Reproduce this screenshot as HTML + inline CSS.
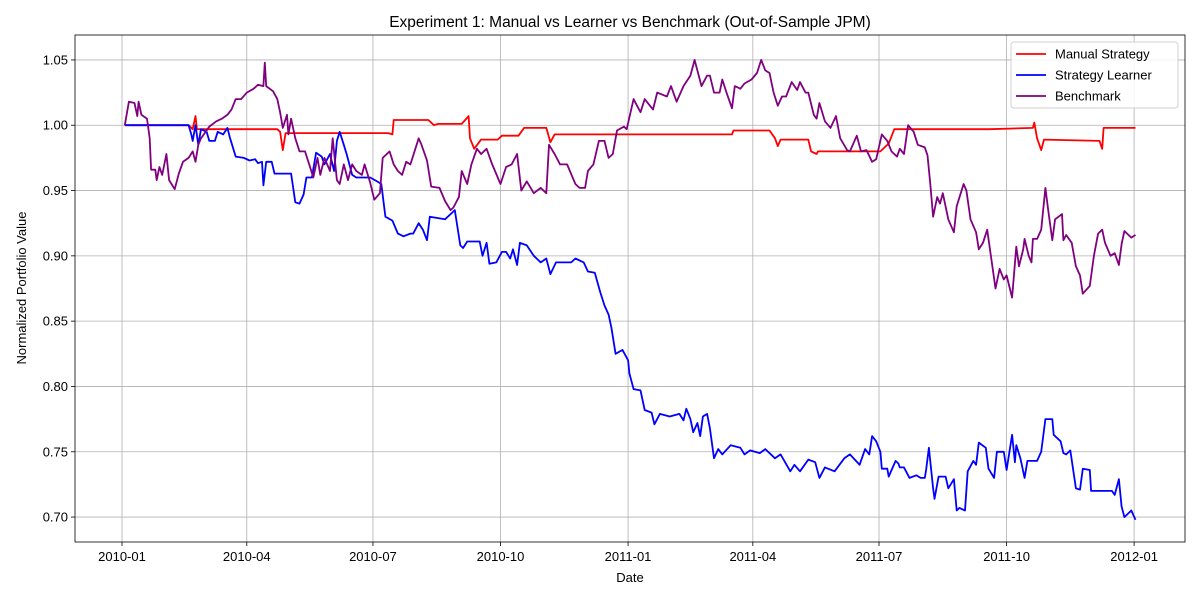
<!DOCTYPE html>
<html><head><meta charset="utf-8"><style>
body{margin:0;background:#fff;}
svg{display:block;font-family:"Liberation Sans","DejaVu Sans",sans-serif;}
</style></head><body>
<svg id="chart" width="1200" height="600"></svg>
<script>
const xTickLabels = ["2010-01","2010-04","2010-07","2010-10","2011-01","2011-04","2011-07","2011-10","2012-01"];
const xTickDays = [0,90,181,273,365,455,546,638,730];
const yTicks = [0.70,0.75,0.80,0.85,0.90,0.95,1.00,1.05];
const manualDays = [2,48,51,53,54,112,114,116,118,192,195,196,208,221,225,228,245,250,251,254,259,271,274,286,290,306,309,312,417,440,441,467,471,473,475,495,497,501,502,547,553,557,626,657,658,660,663,665,705,707,708,731];
const manualVals = [1.0,1.0,0.997,1.007,0.997,0.997,0.995,0.981,0.994,0.994,0.993,1.004,1.004,1.004,1.0,1.001,1.001,1.007,0.99,0.982,0.989,0.989,0.992,0.992,0.998,0.998,0.987,0.993,0.993,0.993,0.996,0.996,0.99,0.984,0.989,0.989,0.98,0.978,0.98,0.98,0.986,0.997,0.997,0.998,1.002,0.99,0.981,0.989,0.988,0.982,0.998,0.998];
const learnerDays = [2,48,50,51,53,55,57,61,63,67,69,73,76,78,82,88,92,96,98,101,102,104,108,110,122,125,128,131,133,137,140,144,146,150,153,155,157,160,162,166,169,174,179,184,187,190,195,199,203,208,210,214,217,220,222,233,237,240,244,246,249,258,260,263,265,270,274,277,280,282,285,287,292,297,302,306,309,313,324,327,333,336,341,345,348,351,353,356,361,365,366,369,374,377,382,384,388,395,402,405,407,410,412,415,417,419,422,424,427,430,433,439,446,449,453,460,464,471,475,482,485,489,495,500,503,507,514,521,525,532,536,539,541,544,547,548,552,553,558,560,561,564,568,573,576,579,580,582,585,586,589,594,596,600,602,604,608,610,614,616,618,623,625,629,631,636,638,642,644,645,648,651,653,660,663,666,671,672,677,679,681,684,688,691,693,698,699,714,716,719,721,723,728,731];
const learnerVals = [1.0,1.0,0.993,0.988,1.0,0.985,0.997,0.995,0.988,0.988,0.995,0.993,0.998,0.99,0.976,0.975,0.973,0.974,0.971,0.972,0.954,0.972,0.972,0.963,0.963,0.941,0.94,0.947,0.96,0.96,0.979,0.976,0.97,0.978,0.965,0.988,0.995,0.985,0.978,0.962,0.96,0.96,0.96,0.957,0.955,0.93,0.927,0.917,0.915,0.917,0.917,0.925,0.92,0.912,0.93,0.928,0.932,0.935,0.908,0.906,0.911,0.911,0.9,0.91,0.894,0.895,0.903,0.903,0.898,0.905,0.893,0.91,0.908,0.9,0.895,0.898,0.886,0.895,0.895,0.898,0.895,0.888,0.887,0.872,0.862,0.855,0.845,0.825,0.828,0.82,0.81,0.798,0.797,0.782,0.78,0.771,0.779,0.777,0.779,0.774,0.783,0.775,0.765,0.772,0.762,0.777,0.779,0.768,0.745,0.752,0.748,0.755,0.753,0.748,0.751,0.749,0.752,0.745,0.748,0.735,0.74,0.735,0.744,0.742,0.73,0.738,0.735,0.745,0.748,0.74,0.752,0.748,0.762,0.758,0.75,0.737,0.737,0.731,0.743,0.741,0.738,0.738,0.73,0.732,0.73,0.73,0.736,0.753,0.722,0.714,0.731,0.731,0.722,0.729,0.705,0.707,0.705,0.735,0.743,0.74,0.757,0.753,0.737,0.73,0.75,0.75,0.736,0.763,0.742,0.755,0.745,0.73,0.743,0.743,0.75,0.775,0.775,0.763,0.758,0.749,0.748,0.751,0.722,0.721,0.737,0.736,0.72,0.72,0.717,0.729,0.708,0.7,0.705,0.698];
const benchDays = [2,5,9,11,12,14,18,20,21,24,25,27,29,32,34,38,41,44,48,51,53,55,57,61,63,68,72,76,79,82,86,90,95,98,102,103,104,109,112,114,116,119,120,122,125,128,132,135,138,141,143,146,150,152,155,157,160,163,166,169,173,175,179,182,186,188,193,196,199,202,205,208,214,216,220,223,229,233,237,239,243,245,249,252,256,259,263,267,273,277,281,285,288,292,297,302,306,308,312,316,321,327,330,334,336,340,344,348,351,354,357,362,364,369,374,377,383,386,393,396,400,405,410,413,418,422,424,427,431,433,436,440,442,446,449,454,458,461,464,467,470,473,476,479,483,487,489,493,495,499,501,503,507,511,515,518,523,525,530,533,537,541,544,548,552,555,559,561,564,567,571,574,579,581,583,585,588,590,592,596,600,602,607,609,612,616,618,621,624,630,633,636,638,642,645,647,650,651,654,656,657,660,663,666,668,671,673,678,679,681,685,688,691,693,698,701,704,707,709,713,716,719,721,723,728,731];
const benchVals = [1.0,1.018,1.017,1.007,1.018,1.008,1.005,0.99,0.966,0.966,0.958,0.968,0.962,0.978,0.958,0.951,0.963,0.972,0.975,0.98,0.972,0.985,0.99,0.996,0.999,1.003,1.005,1.008,1.012,1.02,1.02,1.025,1.028,1.031,1.03,1.048,1.03,1.026,1.02,1.01,0.998,1.008,0.993,1.005,0.99,0.98,0.98,0.97,0.96,0.975,0.962,0.975,0.965,0.99,0.958,0.955,0.97,0.958,0.97,0.965,0.962,0.97,0.956,0.943,0.948,0.975,0.98,0.97,0.965,0.962,0.972,0.97,0.99,0.985,0.973,0.953,0.952,0.942,0.935,0.937,0.945,0.965,0.955,0.97,0.982,0.978,0.982,0.97,0.955,0.968,0.97,0.978,0.95,0.957,0.948,0.952,0.948,0.985,0.978,0.97,0.97,0.955,0.952,0.952,0.965,0.97,0.988,0.988,0.975,0.978,0.996,0.999,0.997,1.02,1.01,1.02,1.012,1.025,1.022,1.03,1.018,1.03,1.038,1.05,1.03,1.038,1.038,1.025,1.025,1.035,1.025,1.013,1.03,1.028,1.032,1.035,1.04,1.05,1.042,1.04,1.025,1.015,1.022,1.022,1.033,1.027,1.033,1.025,1.025,1.008,1.005,1.017,1.003,0.998,1.007,0.99,0.981,0.98,0.992,0.98,0.981,0.972,0.974,0.993,0.988,0.98,0.976,0.982,0.978,1.0,0.995,0.985,0.983,0.977,0.955,0.93,0.945,0.94,0.948,0.928,0.918,0.938,0.955,0.95,0.928,0.918,0.905,0.91,0.92,0.875,0.89,0.882,0.885,0.868,0.907,0.892,0.905,0.913,0.9,0.895,0.913,0.913,0.92,0.952,0.935,0.912,0.928,0.932,0.912,0.916,0.91,0.892,0.885,0.871,0.877,0.9,0.917,0.92,0.91,0.9,0.902,0.893,0.909,0.919,0.914,0.916];

const NS="http://www.w3.org/2000/svg";
const svg=document.getElementById('chart');
const L=75,R=1185,T=35,B=542;
const d0=-33.9,d1=766.7,v0=0.6809,v1=1.0691;
const xs=d=>L+(d-d0)/(d1-d0)*(R-L);
const ys=v=>B-(v-v0)/(v1-v0)*(B-T);
function mk(tag,attrs,parent){const e=document.createElementNS(NS,tag);for(const k in attrs)e.setAttribute(k,attrs[k]);(parent||svg).appendChild(e);return e;}

const grid=mk('g',{});


xTickDays.forEach((d,i)=>{
  const x=xs(d);
  mk('line',{x1:x,x2:x,y1:T,y2:B,stroke:'#b0b0b0','stroke-width':0.8},grid);
  mk('line',{x1:x,x2:x,y1:B,y2:B+4,stroke:'#000','stroke-width':0.8},grid);
  const t=mk('text',{x:x,y:B+19,'text-anchor':'middle','font-size':13,fill:'#000'});
  t.textContent=xTickLabels[i];
  
  
});
yTicks.forEach(v=>{
  const y=ys(v);
  mk('line',{x1:L,x2:R,y1:y,y2:y,stroke:'#b0b0b0','stroke-width':0.8},grid);
  mk('line',{x1:L-4,x2:L,y1:y,y2:y,stroke:'#000','stroke-width':0.8},grid);
  const t=mk('text',{x:L-7,y:y+4.5,'text-anchor':'end','font-size':13,fill:'#000'});
  t.textContent=v.toFixed(2);
  
  
});

function series(days,vals,color,name){
  const p=days.map((d,i)=>(i?'L':'M')+xs(d).toFixed(1)+','+ys(vals[i]).toFixed(1)).join('');
  const e=mk('path',{d:p,fill:'none',stroke:color,'stroke-width':1.8,'stroke-linejoin':'round'});
  
  
}
series(manualDays,manualVals,'#ff0000','manual-strategy-line');
series(learnerDays,learnerVals,'#0000ff','strategy-learner-line');
series(benchDays,benchVals,'#800080','benchmark-line');

const frame=mk('rect',{x:L,y:T,width:R-L,height:B-T,fill:'none',stroke:'#000','stroke-width':0.8});



const title=mk('text',{x:630,y:27,'text-anchor':'middle','font-size':15.5,fill:'#000'});
title.textContent='Experiment 1: Manual vs Learner vs Benchmark (Out-of-Sample JPM)';


const xl=mk('text',{x:630,y:582,'text-anchor':'middle','font-size':13,fill:'#000'});
xl.textContent='Date';


const yl=mk('text',{x:0,y:0,'text-anchor':'middle','font-size':13,fill:'#000',transform:'translate(26,288) rotate(-90)'});
yl.textContent='Normalized Portfolio Value';



const lg=mk('g',{});


mk('rect',{x:1011,y:42,width:167,height:66,rx:3,fill:'#fff','fill-opacity':0.85,stroke:'#d0d0d0','stroke-width':1},lg);
[['Manual Strategy','#ff0000'],['Strategy Learner','#0000ff'],['Benchmark','#800080']].forEach((e,i)=>{
  const y=54+i*21;
  const ln=mk('line',{x1:1016,x2:1046,y1:y,y2:y,stroke:e[1],'stroke-width':1.8},lg);
  
  
  const t=mk('text',{x:1055,y:y+4.5,'font-size':13,fill:'#000'},lg);
  t.textContent=e[0];
  
  
});
</script>
</body></html>
